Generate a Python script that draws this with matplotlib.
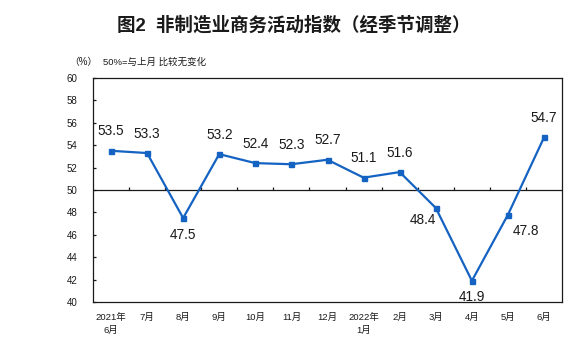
import matplotlib
matplotlib.use("Agg")
import matplotlib.pyplot as plt
import numpy as np

plt.rcParams["font.family"] = ["Liberation Sans", "Noto Sans CJK SC", "DejaVu Sans"]

months = ["2021年\n6月", "7月", "8月", "9月", "10月", "11月", "12月",
          "2022年\n1月", "2月", "3月", "4月", "5月", "6月"]
index_vals = [53.5, 53.3, 47.5, 53.2, 52.4, 52.3, 52.7, 51.1, 51.6, 48.4, 41.9, 47.8, 54.7]
# label placement: above / below / left-below / right-below
label_pos = ["up", "up", "down", "up", "up", "up", "up", "up", "up", "dl", "down", "dr", "up"]
y_ticks = [40, 42, 44, 46, 48, 50, 52, 54, 56, 58, 60]

LINE = "#1463C2"
INK = "#1a1a1a"

fig = plt.figure(figsize=(5.88, 3.48), dpi=100)
fig.patch.set_facecolor("white")
ax = fig.add_axes([0.158, 0.132, 0.798, 0.644])

x = np.arange(len(index_vals))
ax.plot(x, index_vals, color=LINE, lw=1.6, marker="s", ms=3.6, zorder=3)

ax.set_xlim(-0.5, len(index_vals) - 0.5)
ax.set_ylim(40, 60)
ax.set_yticks(y_ticks)
ax.set_yticklabels([str(v) for v in y_ticks], fontsize=7, color=INK)
ax.tick_params(axis="y", direction="in", length=2.5, width=0.9, color=INK, pad=11)

ax.set_xticks(x)
ax.set_xticklabels(months, fontsize=6.8, color=INK, linespacing=1.5, va="top")
ax.tick_params(axis="x", length=0, pad=8)

for s in ax.spines.values():
    s.set_color(INK)
    s.set_linewidth(0.9)

# 50 line acts as the category axis, with boundary ticks standing on it
ax.axhline(50, color=INK, lw=0.9, zorder=2)
bounds = np.arange(0.5, len(index_vals) - 0.5, 1.0)
ax.vlines(bounds, 50, 50.3, color=INK, lw=0.9, zorder=2)

offsets = {"up": (0, 9, "bottom"), "down": (0, -7, "top"),
           "dl": (-9.5, -4, "top"), "dr": (13, -7, "top")}
for xi, v, p in zip(x, index_vals, label_pos):
    dx, dy, va = offsets[p]
    ax.annotate(f"{v}", (xi, v), xytext=(dx, dy), textcoords="offset points",
                ha="center", va=va, fontsize=9.8, color=INK)

fig.text(0.5, 0.928, "图2  非制造业商务活动指数（经季节调整）", ha="center", va="center",
         fontsize=13.3, fontweight="bold", color=INK)
fig.text(0.141, 0.822, "（%）", ha="center", va="center", fontsize=7, color=INK)
fig.text(0.175, 0.822, "50%=与上月 比较无变化", ha="left", va="center", fontsize=6.8, color=INK)

fig.savefig("out.png", dpi=100, facecolor="white")
